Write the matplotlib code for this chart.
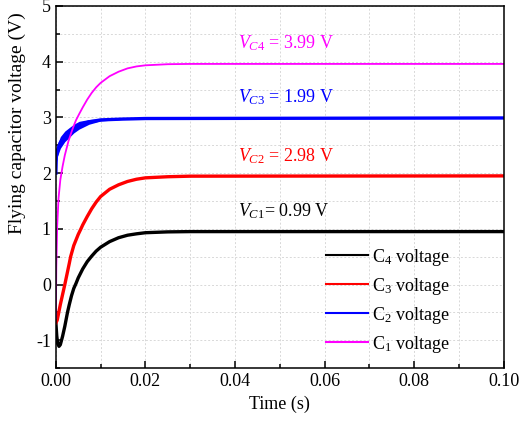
import numpy as np
import matplotlib
matplotlib.use("Agg")
import matplotlib.pyplot as plt
from matplotlib.lines import Line2D

plt.rcParams['font.family'] = ['Liberation Serif', 'DejaVu Serif']
plt.rcParams['mathtext.fontset'] = 'custom'
plt.rcParams['mathtext.rm'] = 'Liberation Serif'
plt.rcParams['mathtext.it'] = 'Liberation Serif:italic'
plt.rcParams['axes.unicode_minus'] = False

# ---- data (time in s, voltage in V) ----
t_c4 = [0, 0.0002, 0.0004, 0.0007, 0.001, 0.0015, 0.002, 0.0026, 0.003, 0.0035,
        0.004, 0.0045, 0.005, 0.006, 0.007, 0.008, 0.009, 0.010, 0.012, 0.014,
        0.016, 0.018, 0.020, 0.025, 0.030, 0.1]
v_c4 = [-0.68, -0.92, -1.06, -1.11, -1.08, -0.93, -0.75, -0.50, -0.36, -0.20,
        -0.07, 0.02, 0.12, 0.28, 0.41, 0.51, 0.60, 0.67, 0.77, 0.84,
        0.885, 0.91, 0.93, 0.945, 0.95, 0.95]

t_c3 = [0, 0.0003, 0.0006, 0.001, 0.0015, 0.002, 0.0025, 0.003, 0.0033, 0.004,
        0.005, 0.0056, 0.006, 0.007, 0.008, 0.009, 0.010, 0.012, 0.014, 0.016,
        0.018, 0.020, 0.025, 0.030, 0.1]
v_c3 = [-0.69, -0.64, -0.52, -0.36, -0.18, 0.0, 0.19, 0.38, 0.50, 0.70,
        0.90, 1.0, 1.07, 1.22, 1.36, 1.48, 1.58, 1.71, 1.79, 1.85,
        1.89, 1.915, 1.935, 1.945, 1.95]

t_c2 = [0, 0.0001, 0.0004, 0.001, 0.002, 0.003, 0.004, 0.0052, 0.0074,
        0.010, 0.0149, 0.020, 0.1]
v_c2 = [2.0, 2.30, 2.42, 2.55, 2.66, 2.73, 2.80, 2.86, 2.92,
        2.955, 2.97, 2.98, 2.99]
ripple_c2 = [0.0, 0.11, 0.11, 0.105, 0.095, 0.088, 0.078, 0.07, 0.043,
             0.02, 0.006, 0.0, 0.0]

t_c1 = [0, 0.0001, 0.0003, 0.0006, 0.001, 0.0015, 0.002, 0.0028, 0.0035, 0.004,
        0.0045, 0.0052, 0.006, 0.007, 0.008, 0.009, 0.010, 0.012, 0.014, 0.016,
        0.018, 0.020, 0.025, 0.030, 0.1]
v_c1 = [-0.6, 0.3, 1.05, 1.55, 1.88, 2.12, 2.32, 2.57, 2.74, 2.85,
        2.95, 3.06, 3.18, 3.32, 3.44, 3.54, 3.62, 3.74, 3.82, 3.88,
        3.915, 3.935, 3.955, 3.96, 3.96]

legend_labels = ['C$_4$ voltage', 'C$_3$ voltage', 'C$_2$ voltage', 'C$_1$ voltage']
colors = ['black', 'red', 'blue', 'magenta']

annotations = [r'$V_{C\mathit{4}}$ = 3.99 V', r'$V_{C\mathit{3}}$ = 1.99 V',
               r'$V_{C\mathit{2}}$ = 2.98 V', r'$V_{C\mathit{1}}$= 0.99 V']
ann_y = [4.24, 3.27, 2.21, 1.22]
ann_x = 0.0407

fig = plt.figure(figsize=(5.22, 4.28), dpi=100)
ax = fig.add_axes([0.107, 0.14, 0.858, 0.846])

ax.plot(t_c4, v_c4, color='black', lw=2.4)
ax.plot(t_c3, v_c3, color='red', lw=2.4)
upper = np.array(v_c2) + np.array(ripple_c2)
lower = np.array(v_c2) - np.array(ripple_c2)
ax.fill_between(t_c2, lower, upper, color='blue', lw=0)
ax.plot(t_c2, v_c2, color='blue', lw=2.4)
ax.plot(t_c1, v_c1, color='magenta', lw=1.3)

for txt, y, c in zip(annotations, ann_y, ['magenta', 'blue', 'red', 'black']):
    ax.text(ann_x, y, txt, color=c, fontsize=13, va='baseline', ha='left')

ax.set_xlim(0, 0.1)
ax.set_ylim(-1.5, 5)
ax.set_xticks(np.arange(0, 0.101, 0.02))
ax.set_xticks(np.arange(0, 0.101, 0.01), minor=True)
ax.set_yticks([-1, 0, 1, 2, 3, 4, 5])
ax.set_yticks(np.arange(-1.5, 5.01, 0.5), minor=True)
ax.set_xticklabels(['0.00', '0.02', '0.04', '0.06', '0.08', '0.10'])
ax.tick_params(which='both', direction='in', labelsize=13)
ax.tick_params(which='major', length=5, width=1.1)
ax.tick_params(which='minor', length=3, width=1.1)
ax.grid(True, which='both', color='#d8d8d8', linestyle=(0, (2, 2)), lw=0.7)
ax.set_axisbelow(True)
for s in ax.spines.values():
    s.set_linewidth(1.1)

ax.set_xlabel('Time (s)', fontsize=13)
ax.set_ylabel('Flying capacitor voltage (V)', fontsize=14)
ax.yaxis.set_label_coords(-0.066, 0.677)

handles = [Line2D([], [], color=c, lw=1.5) for c in colors]
ax.legend(handles, legend_labels, loc='upper left', bbox_to_anchor=(0.568, 0.38),
          frameon=False, fontsize=13, handlelength=2.3, handletextpad=0.2,
          labelspacing=0.44)

fig.savefig('out.png', dpi=100)
